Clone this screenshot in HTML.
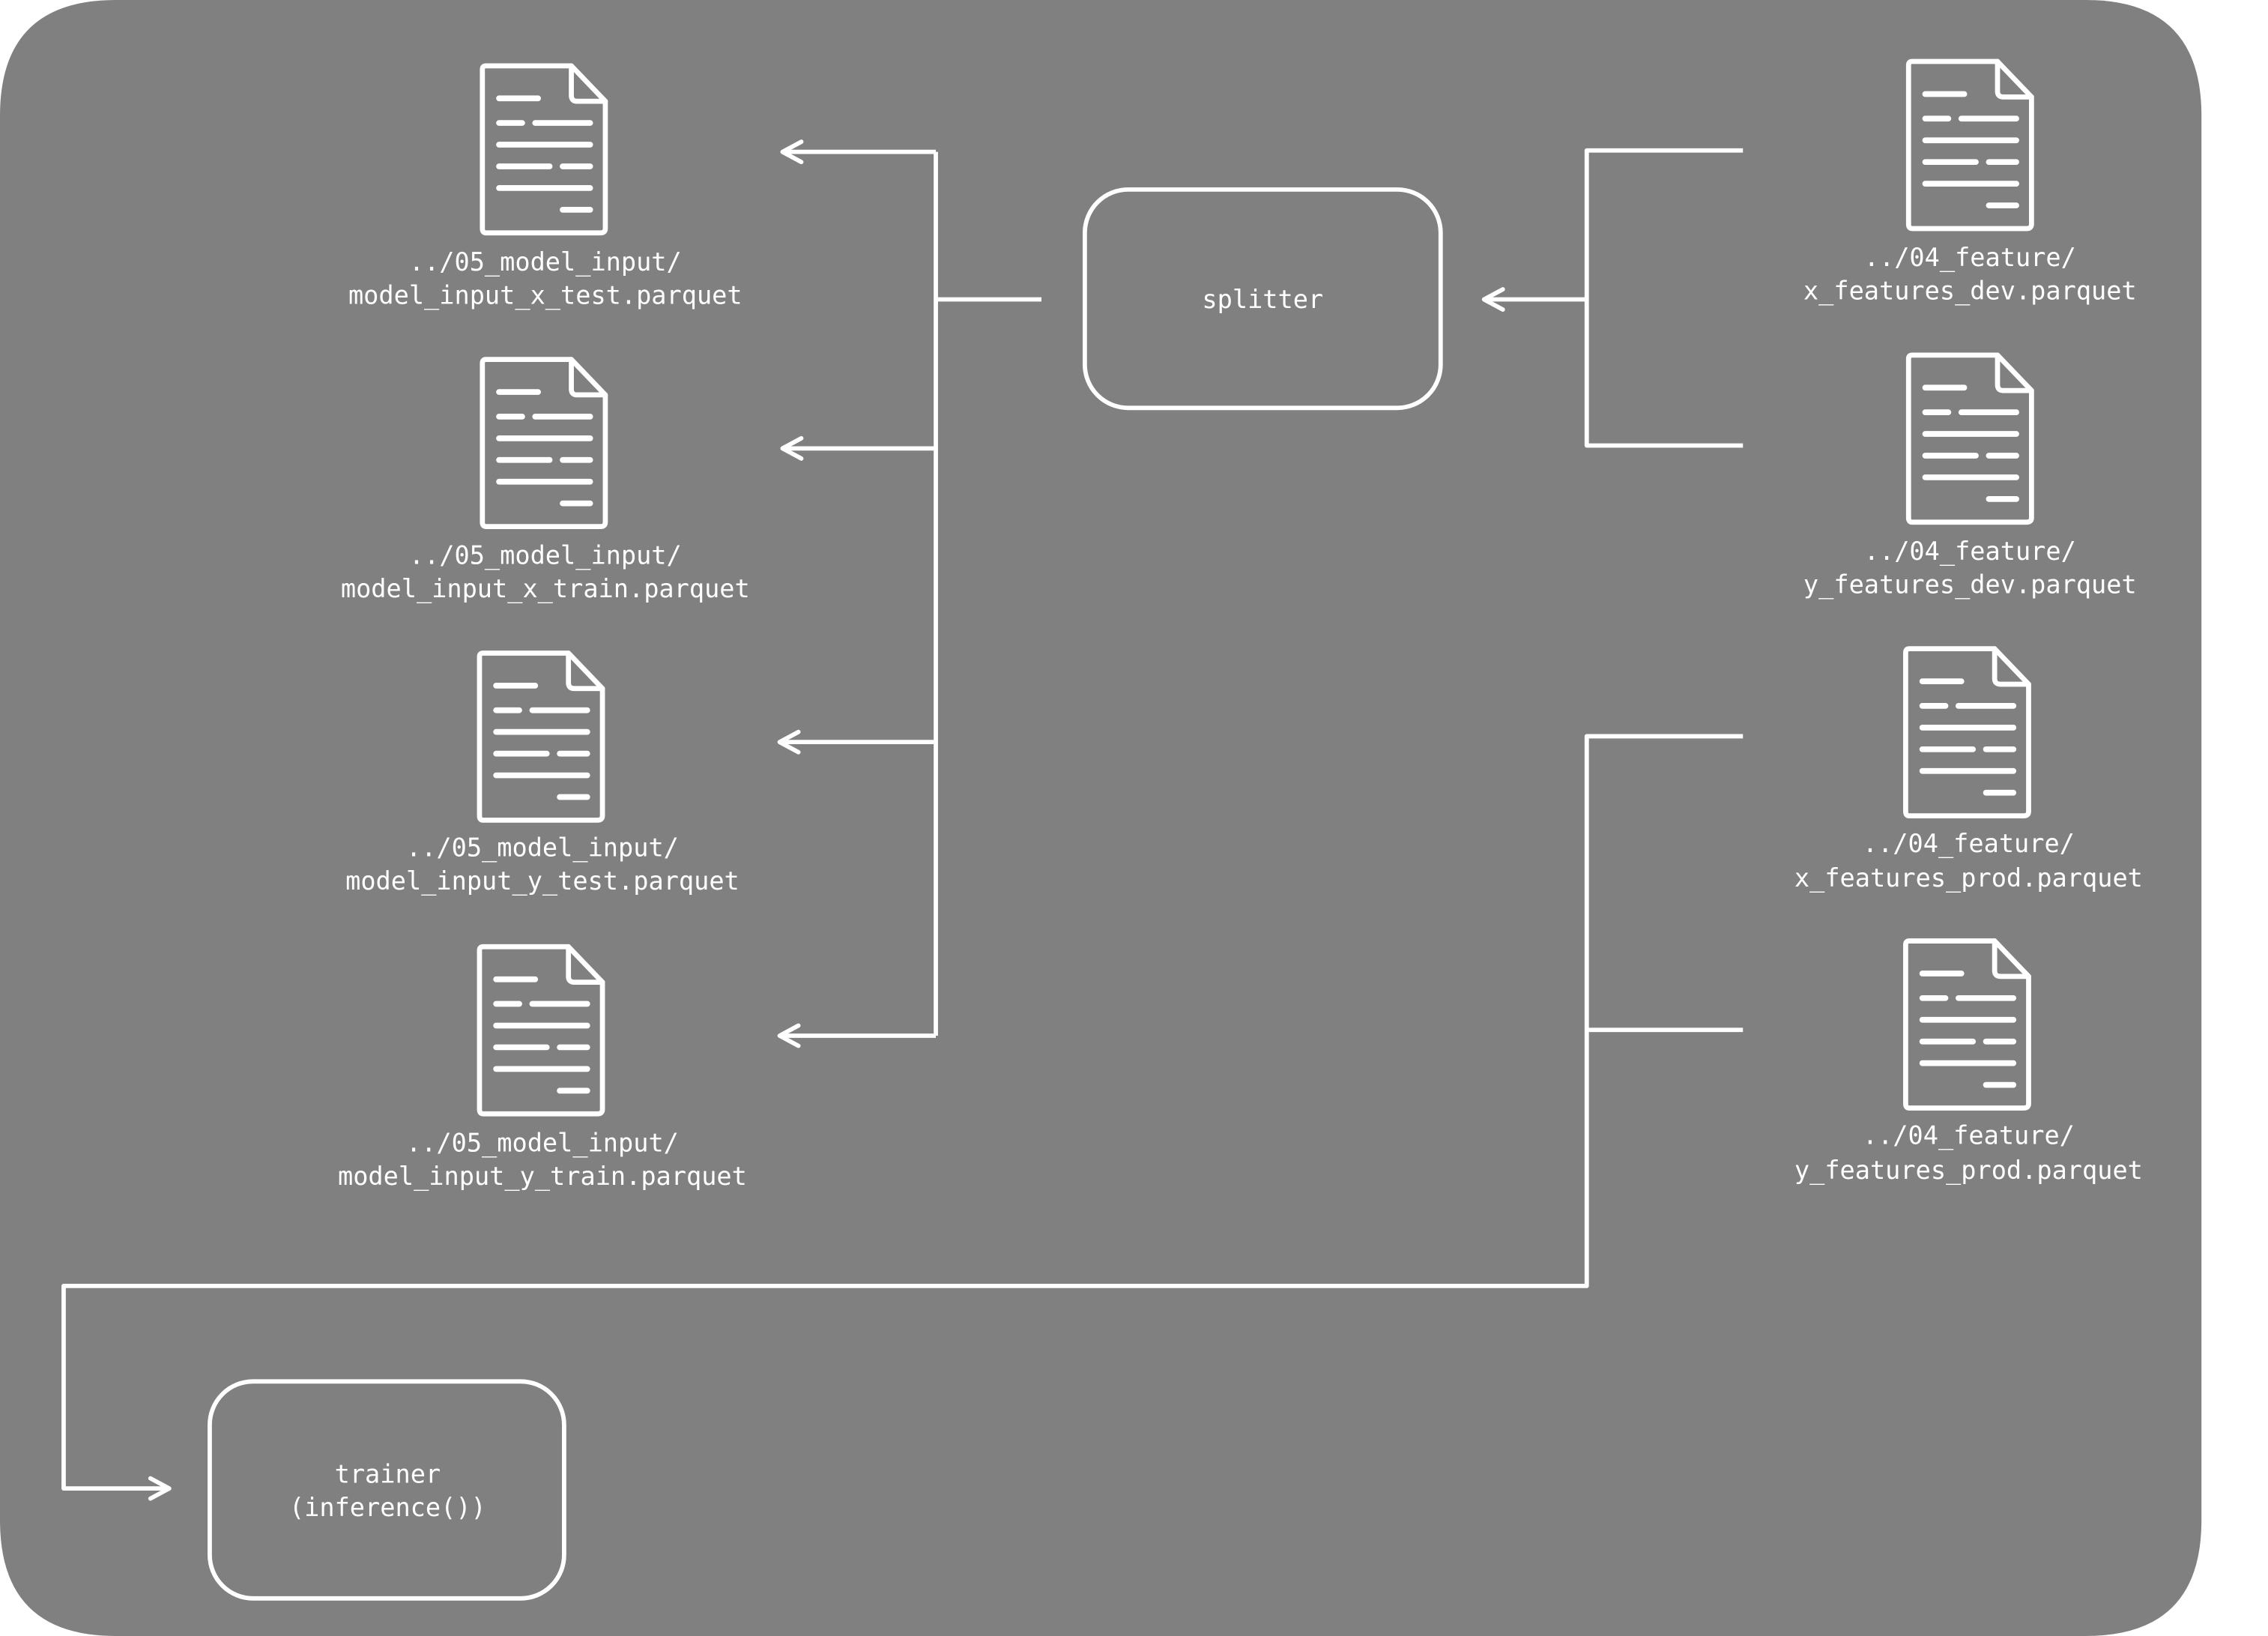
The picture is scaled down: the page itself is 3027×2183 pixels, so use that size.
<!DOCTYPE html>
<html><head><meta charset="utf-8"><style>
html,body{margin:0;padding:0;background:#fff;}
svg{display:block;}
text{font-family:"DejaVu Sans Mono","Liberation Mono",monospace;fill:#fff;font-size:17.4px;text-anchor:middle;}
</style></head><body>
<svg width="3027" height="2183" viewBox="0 0 1568 1131" preserveAspectRatio="none" xmlns="http://www.w3.org/2000/svg">
<defs>
<g id="doc" fill="none" stroke="#fff" stroke-linecap="round" stroke-linejoin="round">
<path d="M4,1.5 H63 L86.5,26 V114 Q86.5,117 83,117 H4 Q1.5,117 1.5,114 V4 Q1.5,1.5 4,1.5 Z" stroke-width="3.5"/>
<path d="M63,1.5 V22 Q63,26 67,26 H86.5" stroke-width="3.5"/>
<g stroke-width="4">
<line x1="13" y1="24" x2="40" y2="24"/>
<line x1="13" y1="41" x2="29" y2="41"/><line x1="38" y1="41" x2="76" y2="41"/>
<line x1="13" y1="56" x2="76" y2="56"/>
<line x1="13" y1="71" x2="48" y2="71"/><line x1="57" y1="71" x2="76" y2="71"/>
<line x1="13" y1="86" x2="76" y2="86"/>
<line x1="57" y1="101" x2="76" y2="101"/>
</g>
</g>
</defs>
<path d="M80,0 H1442 Q1522,0 1522,80 V1051 Q1522,1131 1442,1131 H80 Q0,1131 0,1051 V80 Q0,0 80,0 Z" fill="#808080"/>

<use href="#doc" x="332" y="44"/>
<use href="#doc" x="332" y="247"/>
<use href="#doc" x="330" y="450"/>
<use href="#doc" x="330" y="653"/>
<use href="#doc" x="1318" y="41"/>
<use href="#doc" x="1318" y="244"/>
<use href="#doc" x="1316" y="447"/>
<use href="#doc" x="1316" y="649"/>

<text x="377" y="187">../05_model_input/</text>
<text x="377" y="210">model_input_x_test.parquet</text>
<text x="377" y="390">../05_model_input/</text>
<text x="377" y="413">model_input_x_train.parquet</text>
<text x="375" y="592">../05_model_input/</text>
<text x="375" y="615">model_input_y_test.parquet</text>
<text x="375" y="796">../05_model_input/</text>
<text x="375" y="819">model_input_y_train.parquet</text>

<text x="1362" y="184">../04_feature/</text>
<text x="1362" y="207">x_features_dev.parquet</text>
<text x="1362" y="387">../04_feature/</text>
<text x="1362" y="410">y_features_dev.parquet</text>
<text x="1361" y="589">../04_feature/</text>
<text x="1361" y="613">x_features_prod.parquet</text>
<text x="1361" y="791">../04_feature/</text>
<text x="1361" y="815">y_features_prod.parquet</text>

<g fill="none" stroke="#fff" stroke-width="3" stroke-linecap="round" stroke-linejoin="round">
<rect x="750" y="131" width="246" height="151" rx="30"/>
<rect x="145" y="955" width="245" height="150" rx="30"/>
<path d="M720,207 H647 M647,105 V716 M647,105 H542 M647,310 H542 M647,513 H540 M647,716 H540" stroke-linecap="butt"/>
<path d="M554,98 L541,105 L554,112 M554,303 L541,310 L554,317 M552,506 L539,513 L552,520 M552,709 L539,716 L552,723"/>
<path d="M1205,104 H1097 V308 H1205 M1097,207 H1027" stroke-linecap="butt"/>
<path d="M1039,200 L1026,207 L1039,214"/>
<path d="M1205,509 H1097 V889 H44 V1029 H116 M1097,712 H1205" stroke-linecap="butt"/>
<path d="M104,1022 L117,1029 L104,1036"/>
</g>
<text x="873" y="213">splitter</text>
<text x="268" y="1025">trainer</text>
<text x="268" y="1048">(inference())</text>
</svg>
</body></html>
